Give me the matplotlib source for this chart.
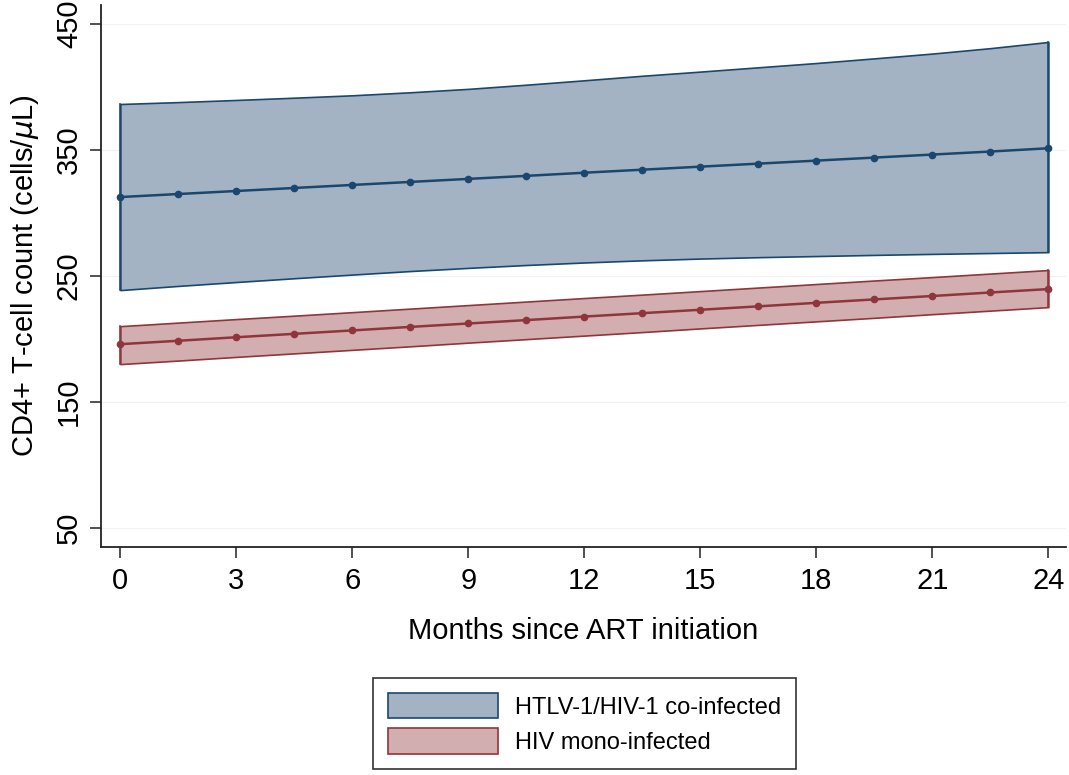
import matplotlib.pyplot as plt
from matplotlib.patches import Patch

plt.rcParams['font.family'] = ['Liberation Sans', 'DejaVu Sans']

months = [0, 1.5, 3, 4.5, 6, 7.5, 9, 10.5, 12, 13.5, 15, 16.5, 18, 19.5, 21, 22.5, 24]

# HTLV-1/HIV-1 co-infected
co_mean = [312.7, 315.1, 317.5, 319.9, 322.3, 324.7, 327.1, 329.5, 332.0,
           334.4, 336.8, 339.2, 341.6, 344.0, 346.4, 348.8, 351.4]
co_upper = [386.5, 388.0, 389.7, 391.5, 393.4, 395.8, 398.5, 401.8, 405.3,
            408.9, 412.2, 415.6, 419.0, 422.7, 426.5, 430.8, 435.7]
co_lower = [238.9, 242.2, 245.3, 248.3, 251.2, 254.0, 256.5, 258.8, 260.8,
            262.5, 263.9, 265.0, 265.9, 266.8, 267.6, 268.3, 269.0]

# HIV mono-infected
mono_mean = [196.0, 198.7, 201.5, 204.2, 206.9, 209.7, 212.4, 215.1, 217.9,
             220.6, 223.3, 226.0, 228.8, 231.5, 234.2, 237.0, 239.7]
mono_upper = [210.3, 213.1, 215.9, 218.6, 221.4, 224.2, 227.0, 229.8, 232.6,
              235.3, 238.1, 240.9, 243.7, 246.5, 249.2, 252.0, 254.8]
mono_lower = [180.2, 183.0, 185.9, 188.7, 191.5, 194.3, 197.2, 200.0, 202.8,
              205.6, 208.5, 211.3, 214.1, 216.9, 219.8, 222.6, 225.4]

labels = ['HTLV-1/HIV-1 co-infected', 'HIV mono-infected']

blue = '#1a476f'
blue_fill = '#a4b3c3'
red = '#90353b'
red_fill = '#d3aeb0'

fig = plt.figure(figsize=(10.69, 7.75), dpi=100)
ax = fig.add_axes([0.0945, 0.294, 0.9025, 0.6995])

for t in [50, 150, 250, 350, 450]:
    ax.axhline(t, color='#f2f2f2', lw=0.8, zorder=0)

ax.fill_between(months, co_lower, co_upper, facecolor=blue_fill, edgecolor=blue, lw=1.2, zorder=2)
ax.plot([months[0], months[0]], [co_lower[0], co_upper[0]], color=blue, lw=1.2, zorder=2)
ax.plot([months[-1], months[-1]], [co_lower[-1], co_upper[-1]], color=blue, lw=1.2, zorder=2)
ax.plot(months, co_mean, color=blue, lw=1.8, marker='o', ms=4.5, zorder=3)

ax.fill_between(months, mono_lower, mono_upper, facecolor=red_fill, edgecolor=red, lw=1.2, zorder=2)
ax.plot([months[0], months[0]], [mono_lower[0], mono_upper[0]], color=red, lw=1.2, zorder=2)
ax.plot([months[-1], months[-1]], [mono_lower[-1], mono_upper[-1]], color=red, lw=1.2, zorder=2)
ax.plot(months, mono_mean, color=red, lw=1.8, marker='o', ms=4.5, zorder=3)

ax.set_xlim(-0.5, 24.45)
ax.set_ylim(35, 465)
ax.set_xticks(range(0, 25, 3))
ax.set_yticks([50, 150, 250, 350, 450])
ax.tick_params(axis='both', direction='out', length=8, width=1.2, labelsize=21,
               color='#333333', pad=6)
ax.tick_params(axis='y', labelrotation=90, pad=5)
for lab in ax.get_yticklabels():
    lab.set_va('center')
for s in ['top', 'right']:
    ax.spines[s].set_visible(False)
for s in ['left', 'bottom']:
    ax.spines[s].set_linewidth(1.3)
    ax.spines[s].set_color('#222222')

ax.set_xlabel('Months since ART initiation', fontsize=21, labelpad=16)
ax.set_ylabel('CD4+ T-cell count (cells/$\\mu$L)', fontsize=21, labelpad=10)

handles = [Patch(facecolor=blue_fill, edgecolor=blue, lw=1.2),
           Patch(facecolor=red_fill, edgecolor=red, lw=1.2)]
leg = fig.legend(handles, labels, loc='center', bbox_to_anchor=(0.5468, 0.0665),
                 fontsize=17, frameon=True, fancybox=False, edgecolor='black',
                 handlelength=4.66, handleheight=1.27, labelspacing=0.42,
                 borderpad=0.62, handletextpad=0.72)
leg.get_frame().set_linewidth(1.2)

fig.savefig('out.png', dpi=100)
